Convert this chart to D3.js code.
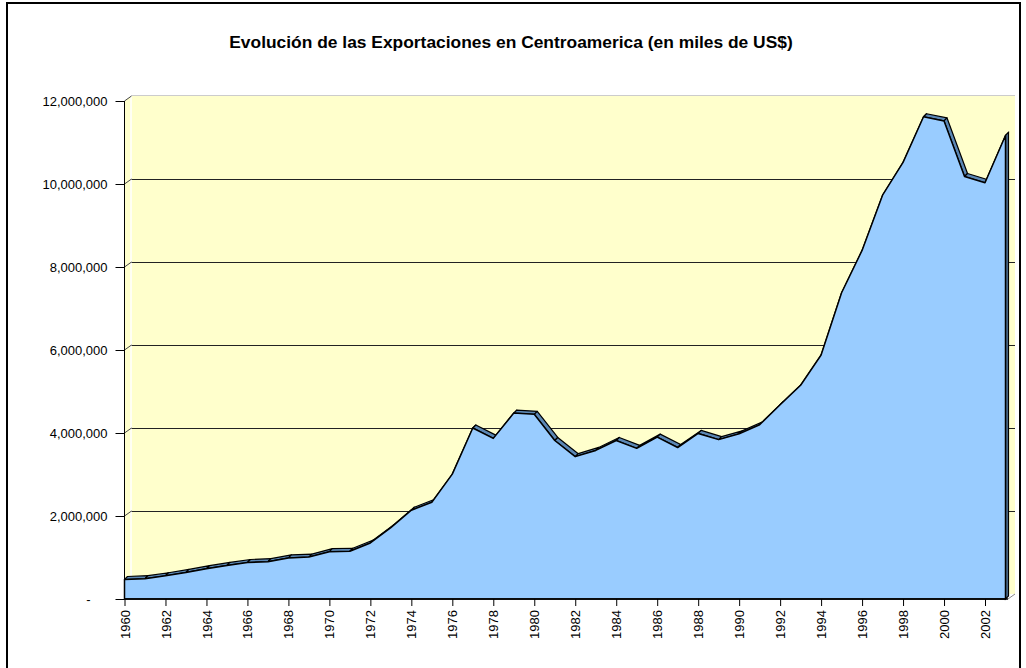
<!DOCTYPE html>
<html>
<head>
<meta charset="utf-8">
<script src="https://cdn.jsdelivr.net/npm/d3@7"></script>
<style>
  body { margin: 0; background: #fff; }
  svg text { font-family: "Liberation Sans", Arial, sans-serif; fill: #000; }
</style>
</head>
<body>
<div class="chart"></div>
<script>
// exportaciones, miles de US$
var years = d3.range(1960, 2004);
var exports = [
    470000, 490000, 560000, 640000, 730000, 810000, 880000, 900000, 990000, 1010000,
    1140000, 1150000, 1350000, 1720000, 2140000, 2330000, 3010000, 4120000, 3870000, 4480000,
    4450000, 3820000, 3430000, 3580000, 3820000, 3630000, 3900000, 3650000, 3990000, 3840000,
    3980000, 4200000, 4680000, 5150000, 5880000, 7380000, 8400000, 9730000, 10520000, 11620000,
    11520000, 10180000, 10030000, 11170000
];
var yTicks = [0, 2000000, 4000000, 6000000, 8000000, 10000000, 12000000];
var xTickLabels = years.filter(function(d) { return d % 2 === 0; });
var title = "Evolución de las Exportaciones en Centroamerica (en miles de US$)";

var width = 1026, height = 668;
var wallOff = { x: 7, y: -5 };   // back wall depth
var serOff = { x: 3, y: -3 };    // area series depth

var svg = d3.select(".chart")
    .append("svg")
    .attr("width", width)
    .attr("height", height);

// outer border
svg.append("rect")
    .attr("x", 7).attr("y", 3)
    .attr("width", 1013).attr("height", 670)
    .attr("fill", "#fff")
    .attr("stroke", "#000")
    .attr("stroke-width", 2);

svg.append("text")
    .attr("x", 511).attr("y", 48)
    .attr("text-anchor", "middle")
    .style("font-size", "17.4px")
    .style("font-weight", "bold")
    .text(title);

var x = d3.scalePoint().domain(years).range([124.5, 1005.5]);
var y = d3.scaleLinear().domain([0, 12000000]).range([599, 101]);

var x0 = 124.5, x1 = 1008, y0 = y(0), yTop = y(12000000);

// side wall + back wall
svg.append("path")
    .attr("d", "M" + x0 + "," + yTop + "L" + (x0 + wallOff.x) + "," + (yTop + wallOff.y) +
        "L" + (x0 + wallOff.x) + "," + (y0 + wallOff.y) + "L" + x0 + "," + y0 + "Z")
    .attr("fill", "#FFFFCC");
svg.append("rect")
    .attr("x", x0 + wallOff.x).attr("y", yTop + wallOff.y)
    .attr("width", x1 + wallOff.x - (x0 + wallOff.x))
    .attr("height", y0 - yTop)
    .attr("fill", "#FFFFCC");
svg.append("line")
    .attr("x1", x0 + wallOff.x).attr("x2", x1 + wallOff.x)
    .attr("y1", yTop + wallOff.y - 0.5).attr("y2", yTop + wallOff.y - 0.5)
    .attr("stroke", "#cccccc");
svg.append("line")
    .attr("x1", x0 + wallOff.x - 0.5).attr("x2", x0 + wallOff.x - 0.5)
    .attr("y1", yTop + wallOff.y).attr("y2", y0 + wallOff.y)
    .attr("stroke", "#ffffff").attr("stroke-width", 1.5);

// gridlines on the back wall
svg.selectAll(".grid")
    .data(yTicks.filter(function(d) { return d > 0 && d < 12000000; }))
    .enter().append("line")
    .attr("class", "grid")
    .attr("x1", x0 + wallOff.x).attr("x2", x1 + wallOff.x)
    .attr("y1", function(d) { return Math.round(y(d) + wallOff.y) + 0.5; })
    .attr("y2", function(d) { return Math.round(y(d) + wallOff.y) + 0.5; })
    .attr("stroke", "#222")
    .attr("stroke-width", 1);

// side wall connectors
svg.selectAll(".conn")
    .data(yTicks)
    .enter().append("line")
    .attr("class", "conn")
    .attr("x1", x0).attr("y1", function(d) { return y(d); })
    .attr("x2", x0 + wallOff.x).attr("y2", function(d) { return y(d) + wallOff.y; })
    .attr("stroke", "#444");

// area series: top surface bands
var pts = years.map(function(d, i) { return [x(d), y(exports[i])]; });
var bands = [];
for (var i = 0; i < pts.length - 1; i++) {
    bands.push([pts[i], pts[i + 1]]);
}
svg.selectAll(".band")
    .data(bands)
    .enter().append("path")
    .attr("class", "band")
    .attr("d", function(s) {
        return "M" + s[0] + "L" + s[1] +
            "L" + [s[1][0] + serOff.x, s[1][1] + serOff.y] +
            "L" + [s[0][0] + serOff.x, s[0][1] + serOff.y] + "Z";
    })
    .attr("fill", "#5b87b5")
    .attr("stroke", "#000")
    .attr("stroke-width", 1.2)
    .attr("stroke-linejoin", "round");

// right end face
var last = pts[pts.length - 1];
svg.append("path")
    .attr("d", "M" + last + "L" + [last[0] + serOff.x, last[1] + serOff.y] +
        "L" + [last[0] + serOff.x, y0 + serOff.y] + "L" + [last[0], y0] + "Z")
    .attr("fill", "#4d6f94")
    .attr("stroke", "#000")
    .attr("stroke-width", 1.2);

// front face
var area = d3.area()
    .x(function(d) { return x(d); })
    .y0(y0)
    .y1(function(d, i) { return y(exports[i]); });
svg.append("path")
    .datum(years)
    .attr("d", area)
    .attr("fill", "#99CCFF")
    .attr("stroke", "#000")
    .attr("stroke-width", 1.5)
    .attr("stroke-linejoin", "round");

// y axis
var yAxis = d3.axisLeft(y)
    .tickValues(yTicks)
    .tickSize(9)
    .tickPadding(8)
    .tickFormat(function(d) { return d === 0 ? "-" : d3.format(",")(d); });
var gy = svg.append("g")
    .attr("transform", "translate(" + x0 + ",0)")
    .call(yAxis);
gy.select(".domain").attr("d", "M0," + yTop + "V" + y0).attr("stroke", "#000");
gy.selectAll("line").attr("stroke", "#000");
gy.selectAll("text")
    .style("font-size", "13px")
    .attr("dx", function(d) { return d === 0 ? -17 : 0; });

// x axis
var xAxis = d3.axisBottom(x)
    .tickValues(xTickLabels)
    .tickSize(7)
    .tickSizeOuter(0);
var gx = svg.append("g")
    .attr("transform", "translate(0," + y0 + ")")
    .call(xAxis);
gx.select(".domain").attr("d", "M" + x0 + ",0H" + x1).attr("stroke", "#000").attr("stroke-width", 1.5);
gx.selectAll("line").attr("stroke", "#000");
gx.selectAll("text")
    .style("font-size", "13px")
    .attr("text-anchor", "end")
    .attr("transform", "rotate(-90)")
    .attr("x", -11)
    .attr("y", 0)
    .attr("dy", "0.35em");

// floor edge at right
svg.append("line")
    .attr("x1", x1).attr("y1", y0)
    .attr("x2", x1 + wallOff.x).attr("y2", y0 + wallOff.y)
    .attr("stroke", "#888");
</script>
</body>
</html>
